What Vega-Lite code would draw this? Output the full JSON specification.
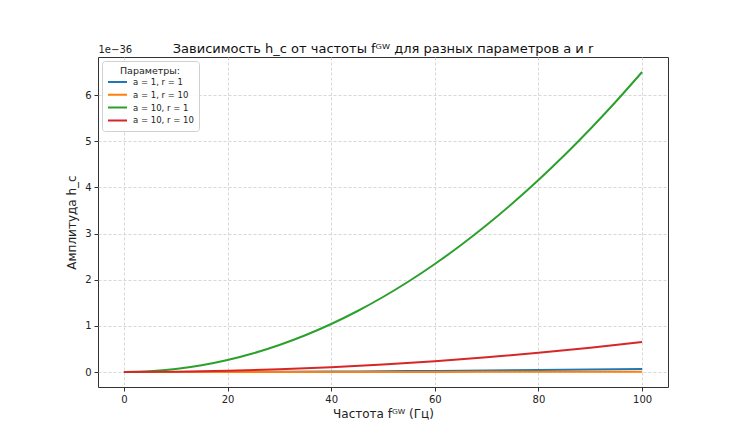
{
  "$schema": "https://vega.github.io/schema/vega-lite/v6.json",
  "autosize": {"type": "none"},
  "width": 570,
  "height": 330,
  "padding": {"left": 98, "top": 57, "right": 69, "bottom": 45},
  "background": "white",
  "config": {
    "font": "DejaVu Sans",
    "view": {"stroke": "#333333", "strokeWidth": 1},
    "axis": {"labelFont": "DejaVu Sans", "titleFont": "DejaVu Sans", "labelFontSize": 10, "titleFontSize": 12, "titleFontWeight": "normal", "labelColor": "#222", "titleColor": "#222", "tickColor": "#333", "tickSize": 4, "domain": false, "gridColor": "#d4d4d4", "gridDash": [3, 2], "gridOpacity": 0.9, "labelPadding": 3}
  },
  "title": {"text": "Зависимость h_c от частоты fᴳᵂ для разных параметров a и r", "font": "DejaVu Sans", "fontSize": 13, "fontWeight": "normal", "color": "#111", "offset": -12},
  "data": {"values": [
    {"f": 0, "h": 0, "s": "a = 1, r = 1"},
    {"f": 10, "h": 0.00065, "s": "a = 1, r = 1"},
    {"f": 20, "h": 0.0026, "s": "a = 1, r = 1"},
    {"f": 30, "h": 0.00585, "s": "a = 1, r = 1"},
    {"f": 40, "h": 0.0104, "s": "a = 1, r = 1"},
    {"f": 50, "h": 0.01625, "s": "a = 1, r = 1"},
    {"f": 60, "h": 0.0234, "s": "a = 1, r = 1"},
    {"f": 70, "h": 0.03185, "s": "a = 1, r = 1"},
    {"f": 80, "h": 0.0416, "s": "a = 1, r = 1"},
    {"f": 90, "h": 0.05265, "s": "a = 1, r = 1"},
    {"f": 100, "h": 0.065, "s": "a = 1, r = 1"},
    {"f": 0, "h": 0, "s": "a = 1, r = 10"},
    {"f": 20, "h": 0.00026, "s": "a = 1, r = 10"},
    {"f": 40, "h": 0.00104, "s": "a = 1, r = 10"},
    {"f": 60, "h": 0.00234, "s": "a = 1, r = 10"},
    {"f": 80, "h": 0.00416, "s": "a = 1, r = 10"},
    {"f": 100, "h": 0.0065, "s": "a = 1, r = 10"},
    {"f": 0, "h": 0, "s": "a = 10, r = 1"},
    {"f": 5, "h": 0.01625, "s": "a = 10, r = 1"},
    {"f": 10, "h": 0.065, "s": "a = 10, r = 1"},
    {"f": 15, "h": 0.14625, "s": "a = 10, r = 1"},
    {"f": 20, "h": 0.26, "s": "a = 10, r = 1"},
    {"f": 25, "h": 0.40625, "s": "a = 10, r = 1"},
    {"f": 30, "h": 0.585, "s": "a = 10, r = 1"},
    {"f": 35, "h": 0.79625, "s": "a = 10, r = 1"},
    {"f": 40, "h": 1.04, "s": "a = 10, r = 1"},
    {"f": 45, "h": 1.31625, "s": "a = 10, r = 1"},
    {"f": 50, "h": 1.625, "s": "a = 10, r = 1"},
    {"f": 55, "h": 1.96625, "s": "a = 10, r = 1"},
    {"f": 60, "h": 2.34, "s": "a = 10, r = 1"},
    {"f": 65, "h": 2.74625, "s": "a = 10, r = 1"},
    {"f": 70, "h": 3.185, "s": "a = 10, r = 1"},
    {"f": 75, "h": 3.65625, "s": "a = 10, r = 1"},
    {"f": 80, "h": 4.16, "s": "a = 10, r = 1"},
    {"f": 85, "h": 4.69625, "s": "a = 10, r = 1"},
    {"f": 90, "h": 5.265, "s": "a = 10, r = 1"},
    {"f": 95, "h": 5.86625, "s": "a = 10, r = 1"},
    {"f": 100, "h": 6.5, "s": "a = 10, r = 1"},
    {"f": 0, "h": 0, "s": "a = 10, r = 10"},
    {"f": 10, "h": 0.0065, "s": "a = 10, r = 10"},
    {"f": 20, "h": 0.026, "s": "a = 10, r = 10"},
    {"f": 30, "h": 0.0585, "s": "a = 10, r = 10"},
    {"f": 40, "h": 0.104, "s": "a = 10, r = 10"},
    {"f": 50, "h": 0.1625, "s": "a = 10, r = 10"},
    {"f": 60, "h": 0.234, "s": "a = 10, r = 10"},
    {"f": 70, "h": 0.3185, "s": "a = 10, r = 10"},
    {"f": 80, "h": 0.416, "s": "a = 10, r = 10"},
    {"f": 90, "h": 0.5265, "s": "a = 10, r = 10"},
    {"f": 100, "h": 0.65, "s": "a = 10, r = 10"}
  ]},
  "layer": [
    {
      "mark": {"type": "line", "strokeWidth": 2, "interpolate": "monotone"},
      "encoding": {
        "x": {"field": "f", "type": "quantitative", "scale": {"domain": [-5, 105], "nice": false, "zero": false}, "axis": {"orient": "bottom", "title": "Частота fᴳᵂ (Гц)", "values": [0, 20, 40, 60, 80, 100], "titlePadding": 4}},
        "y": {"field": "h", "type": "quantitative", "scale": {"domain": [-0.325, 6.825], "nice": false, "zero": false}, "axis": {"title": "Амплитуда h_c", "values": [0, 1, 2, 3, 4, 5, 6], "titlePadding": 6}},
        "color": {"field": "s", "type": "nominal", "scale": {"domain": ["a = 1, r = 1", "a = 1, r = 10", "a = 10, r = 1", "a = 10, r = 10"], "range": ["#1f77b4", "#ff7f0e", "#2ca02c", "#d62728"]},
          "legend": {"title": "Параметры:", "orient": "top-left", "offset": 4, "titleAnchor": "middle", "titleFontSize": 9.5, "titleFontWeight": "normal", "titleFont": "DejaVu Sans", "labelFont": "DejaVu Sans", "labelFontSize": 8.5, "labelColor": "#222", "titleColor": "#222", "symbolType": "stroke", "symbolSize": 361, "symbolStrokeWidth": 2, "labelOffset": 5, "fillColor": "rgba(255,255,255,0.85)", "strokeColor": "#d0d0d0", "cornerRadius": 3, "padding": 5, "rowPadding": 1.8, "titlePadding": 1, "clipHeight": 11}}
      }
    },
    {
      "mark": {"type": "point", "opacity": 0},
      "encoding": {
        "x": {"field": "f", "type": "quantitative", "scale": {"domain": [-5, 105], "nice": false, "zero": false}, "axis": {"orient": "top", "labels": false, "ticks": false, "grid": false, "domain": false, "title": "1e−36", "titleFontSize": 10, "titleX": 0, "titleY": -3, "titleAlign": "left", "titleBaseline": "bottom", "titleAngle": 0}},
        "y": {"field": "h", "type": "quantitative"}
      }
    }
  ],
  "resolve": {"axis": {"x": "independent"}}
}
